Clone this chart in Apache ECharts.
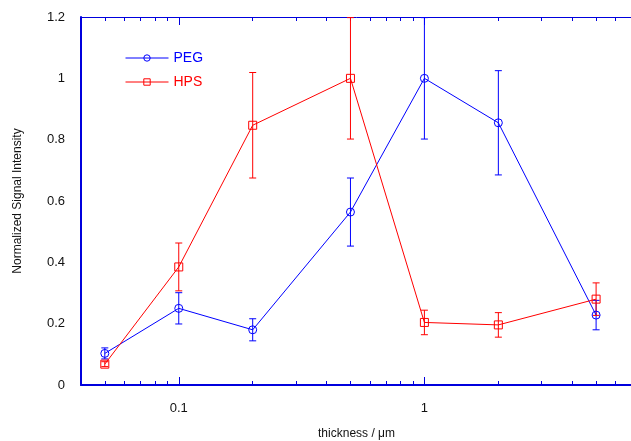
<!DOCTYPE html>
<html>
<head>
<meta charset="utf-8">
<script src="https://cdn.jsdelivr.net/npm/echarts@6/dist/echarts.min.js"></script>
<style>
  html, body { margin: 0; padding: 0; background: #fff; }
  #chart { width: 631px; height: 441px; }
</style>
</head>
<body>
<div id="chart"></div>
<script>
// Film thickness (µm) for each measurement
const thickness = [0.05, 0.1, 0.2, 0.5, 1, 2, 5];
// Normalized signal intensity and its half-width error
const pegValues = [0.103, 0.250, 0.180, 0.564, 1.0, 0.855, 0.228];
const pegErrors = [0.018, 0.051, 0.036, 0.111, 0.198, 0.170, 0.048];
const hpsValues = [0.068, 0.385, 0.847, 1.0, 0.204, 0.196, 0.280];
const hpsErrors = [0.008, 0.078, 0.172, 0.198, 0.040, 0.040, 0.053];
// Axis ticks
const majorTicks = [0.1, 1];
const minorTicks = [0.05, 0.06, 0.07, 0.08, 0.09, 0.2, 0.3, 0.4, 0.5, 0.6, 0.7, 0.8, 0.9, 2, 3, 4, 5, 6, 7];

const BLUE = '#0000ff';
const RED = '#ff0000';
const AXIS = '#0000dd';
const CLEAR = 'rgba(255,255,255,0)';
const FONT = 'Liberation Sans';

const pairs = (xs, ys) => xs.map((x, i) => [x, ys[i]]);
const errRows = (xs, ys, es) => xs.map((x, i) => [x, ys[i] - es[i], ys[i] + es[i]]);

function errorBar(color) {
  return function (params, api) {
    const x = api.value(0);
    const lo = api.coord([x, api.value(1)]);
    const hi = api.coord([x, api.value(2)]);
    const cap = 3.5;
    const style = { stroke: color, lineWidth: 1 };
    return {
      type: 'group',
      children: [
        { type: 'line', shape: { x1: lo[0], y1: lo[1], x2: hi[0], y2: hi[1] }, style },
        { type: 'line', shape: { x1: lo[0] - cap, y1: lo[1], x2: lo[0] + cap, y2: lo[1] }, style },
        { type: 'line', shape: { x1: hi[0] - cap, y1: hi[1], x2: hi[0] + cap, y2: hi[1] }, style }
      ]
    };
  };
}

function logAxis(position, ticks, len, showLine, lineWidth, showLabel) {
  return {
    type: 'log', logBase: 10, min: 0.04, max: 7, position: position, offset: 0,
    axisLine: { show: showLine, onZero: false, lineStyle: { color: AXIS, width: lineWidth } },
    axisTick: { show: true, inside: true, length: len, customValues: ticks, lineStyle: { color: AXIS, width: 1 } },
    axisLabel: showLabel
      ? { show: true, customValues: ticks, margin: 17, color: '#111', fontFamily: FONT, fontSize: 13 }
      : { show: false },
    splitLine: { show: false }, minorTick: { show: false }
  };
}

const chart = echarts.init(document.getElementById('chart'), null, { renderer: 'canvas' });

const xMain = logAxis('bottom', majorTicks, 8, true, 2, true);
xMain.name = 'thickness / \u03bcm';
xMain.nameLocation = 'middle';
xMain.nameGap = 43;
xMain.nameTextStyle = { color: '#111', fontFamily: FONT, fontSize: 12 };

chart.setOption({
  animation: false,
  backgroundColor: '#fff',
  grid: { left: 81, right: -1, top: 17, bottom: 56, outerBoundsMode: 'none', containLabel: false },
  legend: {
    orient: 'vertical', left: 120, top: 46, itemWidth: 43, itemHeight: 8, itemGap: 10,
    textStyle: { fontFamily: FONT, fontSize: 14 },
    itemStyle: { borderWidth: 1 },
    lineStyle: { width: 1 },
    data: [
      { name: 'PEG', textStyle: { color: BLUE } },
      { name: 'HPS', textStyle: { color: RED } }
    ]
  },
  xAxis: [
    xMain,
    logAxis('bottom', minorTicks, 4, false, 1, false),
    logAxis('top', majorTicks, 8, true, 1, false),
    logAxis('top', minorTicks, 4, false, 1, false)
  ],
  yAxis: {
    type: 'value', min: 0, max: 1.2, interval: 0.2,
    name: 'Normalized Signal Intensity', nameLocation: 'middle', nameGap: 57,
    nameTextStyle: { color: '#111', fontFamily: FONT, fontSize: 12 },
    axisLine: { show: true, lineStyle: { color: AXIS, width: 2 } },
    axisTick: { show: false },
    axisLabel: { color: '#111', fontFamily: FONT, fontSize: 13, margin: 16 },
    splitLine: { show: false }
  },
  series: [
    {
      type: 'custom', name: 'PEG err', xAxisIndex: 0, renderItem: errorBar(BLUE),
      data: errRows(thickness, pegValues, pegErrors), z: 3, silent: true
    },
    {
      type: 'custom', name: 'HPS err', xAxisIndex: 0, renderItem: errorBar(RED),
      data: errRows(thickness, hpsValues, hpsErrors), z: 3, silent: true
    },
    {
      type: 'line', name: 'PEG', xAxisIndex: 0, data: pairs(thickness, pegValues),
      symbol: 'circle', symbolSize: 8,
      itemStyle: { color: CLEAR, borderColor: BLUE, borderWidth: 1 },
      lineStyle: { color: BLUE, width: 1 }, z: 4
    },
    {
      type: 'line', name: 'HPS', xAxisIndex: 0, data: pairs(thickness, hpsValues),
      symbol: 'rect', symbolSize: 8,
      itemStyle: { color: CLEAR, borderColor: RED, borderWidth: 1 },
      lineStyle: { color: RED, width: 1 }, z: 4
    }
  ]
});
</script>
</body>
</html>
